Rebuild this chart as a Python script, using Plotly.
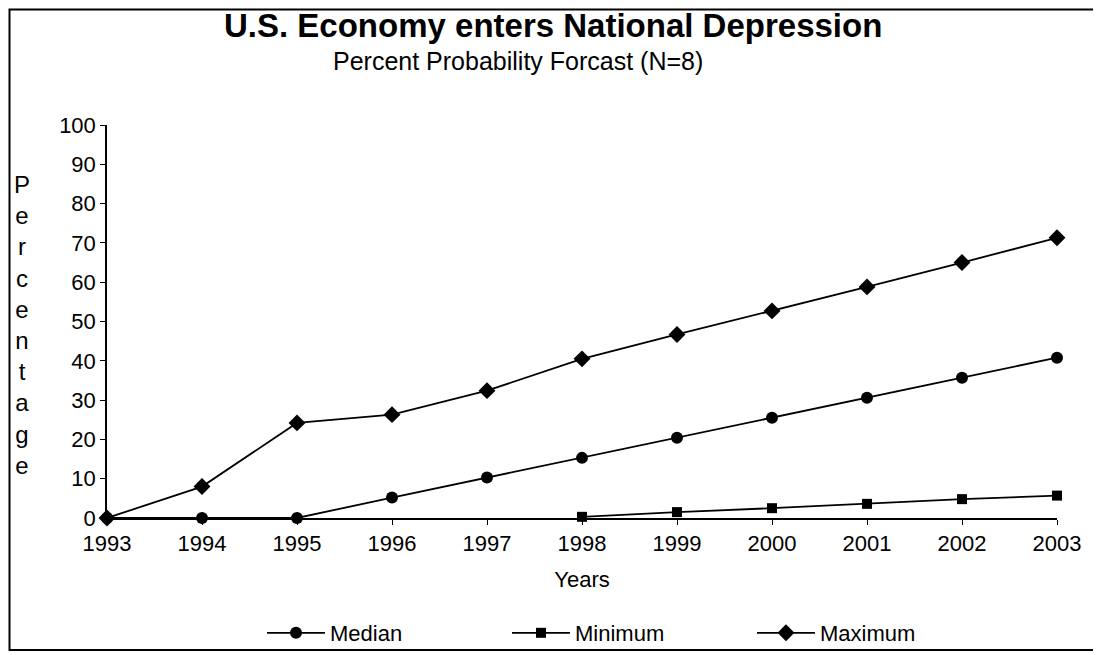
import plotly.graph_objects as go

years = [1993, 1994, 1995, 1996, 1997, 1998, 1999, 2000, 2001, 2002, 2003]
median = [0, 0, 0, 5.2, 10.3, 15.3, 20.4, 25.5, 30.6, 35.7, 40.8]
min_years = [1998, 1999, 2000, 2001, 2002, 2003]
minimum = [0.3, 1.5, 2.5, 3.6, 4.8, 5.7]
maximum = [0, 8, 24.2, 26.3, 32.4, 40.5, 46.7, 52.7, 58.8, 65.0, 71.3]
y_ticks = list(range(0, 101, 10))

FONT = "Liberation Sans, Arial, sans-serif"
OFF = 8  # page body margin offset
W, H = 1101 - OFF, 655 - OFF
# plot area in page pixels
PX0, PX1, PY0, PY1 = 107, 1057, 125, 518
L = PX0 - OFF
R = W - (PX1 - OFF)
T = PY0 - OFF
B = H - (PY1 - OFF)
pw, ph = PX1 - PX0, PY1 - PY0

def px(x):
    return (x - PX0) / pw

def py(y):
    return (PY1 - y) / ph

fig = go.Figure()
fig.add_trace(go.Scatter(x=years, y=median, name="Median", mode="lines+markers",
                         line=dict(color="black", width=1.8),
                         marker=dict(symbol="circle", size=12, color="black"),
                         cliponaxis=False))
fig.add_trace(go.Scatter(x=min_years, y=minimum, name="Minimum", mode="lines+markers",
                         line=dict(color="black", width=1.8),
                         marker=dict(symbol="square", size=10, color="black"),
                         cliponaxis=False))
fig.add_trace(go.Scatter(x=years, y=maximum, name="Maximum", mode="lines+markers",
                         line=dict(color="black", width=1.8),
                         marker=dict(symbol="diamond", size=13, color="black"),
                         cliponaxis=False))

fig.update_layout(
    width=W, height=H,
    margin=dict(l=L, r=R, t=T, b=B, autoexpand=False),
    paper_bgcolor="white", plot_bgcolor="white",
    font=dict(family=FONT, size=22, color="black"),
    showlegend=True,
    legend=dict(orientation="h", x=px(262), xanchor="left", y=py(633), yanchor="middle",
                entrywidth=172, entrywidthmode="pixels", itemwidth=58,
                font=dict(size=22), bgcolor="rgba(0,0,0,0)"),
    xaxis=dict(range=[1993, 2003], tickmode="array", tickvals=years,
               ticktext=[str(y) for y in years],
               showline=True, linecolor="black", linewidth=1.5,
               ticks="outside", ticklen=5, tickcolor="black", showgrid=False, zeroline=False,
               tickfont=dict(size=22),
               title=dict(text="Years", font=dict(size=22), standoff=16)),
    yaxis=dict(range=[0, 100], tickmode="array", tickvals=y_ticks,
               showline=True, linecolor="black", linewidth=1.5,
               ticks="outside", ticklen=5, tickcolor="black", showgrid=False, zeroline=False,
               tickfont=dict(size=22)),
)

fig.add_annotation(x=px(553), y=py(26), xref="paper", yref="paper", showarrow=False,
                   text="<b>U.S. Economy enters National Depression</b>",
                   font=dict(size=33, family=FONT), xanchor="center", yanchor="middle")
fig.add_annotation(x=px(518), y=py(61), xref="paper", yref="paper", showarrow=False,
                   text="Percent Probability Forcast (N=8)",
                   font=dict(size=25, family=FONT), xanchor="center", yanchor="middle")
fig.add_annotation(x=px(22), y=py(325), xref="paper", yref="paper", showarrow=False,
                   text="<br>".join(list("Percentage")),
                   font=dict(size=24, family=FONT), xanchor="center", yanchor="middle",
                   align="center")

fig.add_shape(type="rect", xref="paper", yref="paper",
              x0=px(OFF + 1.5), x1=px(1096), y0=py(650), y1=py(OFF + 1.5),
              line=dict(color="black", width=2), fillcolor="rgba(0,0,0,0)", layer="below")

fig.write_html("out.html")
